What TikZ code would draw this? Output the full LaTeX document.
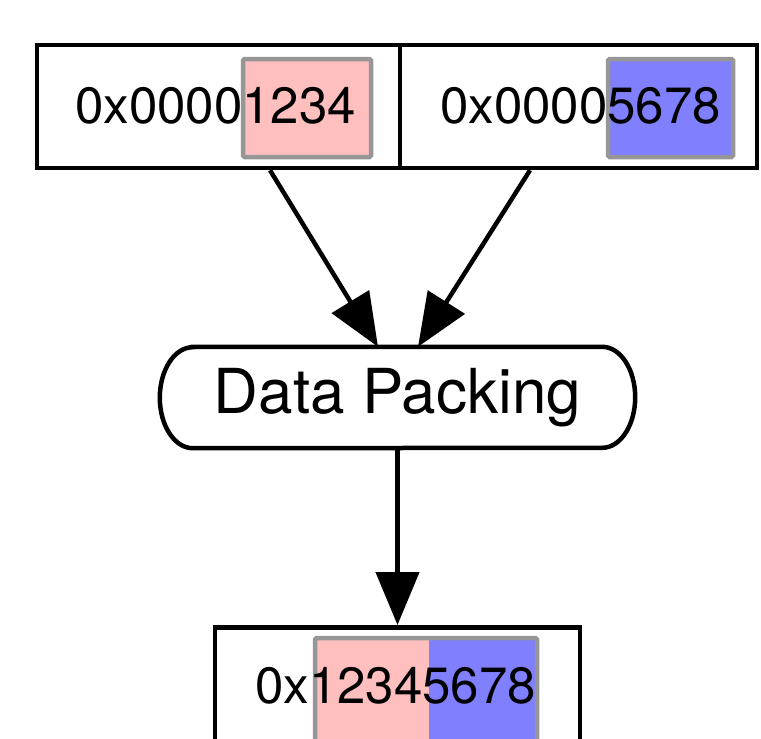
\documentclass[tikz,border=0pt]{standalone}
\usepackage{fontspec}
\setmainfont{TeX Gyre Heros}
\usetikzlibrary{arrows.meta}
\definecolor{hlred}{RGB}{255,191,191}
\definecolor{hlblue}{RGB}{128,128,255}
\definecolor{hlframe}{RGB}{150,150,150}
\begin{document}
\begin{tikzpicture}[x=1pt,y=-1pt,
  field/.style={draw=black, line width=4.5pt, inner sep=0pt, fill=white},
  hlframe/.style={draw=hlframe, line width=4.5pt, rounded corners=1.5pt},
  val/.style={font=\fontsize{51}{51}\selectfont, inner sep=0pt, anchor=base west},
  flow/.style={line width=4.5pt, -{Triangle[length=53pt,width=43pt]}}]
\useasboundingbox (0,0) rectangle (761,739);
\clip (0,0) rectangle (761,739);
\fill[white] (0,0) rectangle (761,739);

% input words
\node[field, minimum width=363pt, minimum height=123pt] (inA) at (218.5,106.5) {};
\node[field, minimum width=357pt, minimum height=123pt] (inB) at (578.5,106.5) {};
\fill[hlred] (243,59) rectangle (371,157);
\draw[hlframe] (243,59) rectangle (371,157);
\fill[hlblue] (608,59) rectangle (733,157);
\draw[hlframe] (608,59) rectangle (733,157);
\node[val] (tA) at (75,123) {0x00001234};
\node[val] (tB) at (440,123) {0x00005678};

% packing step
\node[inner sep=0pt, minimum width=475pt, minimum height=101pt,
      font=\fontsize{62}{62}\selectfont] (pack) at (397.5,397.5) {Data Packing};
\draw[line width=4.5pt] ([xshift=33pt]pack.north west) -- ([xshift=-33pt]pack.north east)
  arc[start angle=90, end angle=-90, x radius=33pt, y radius=50.5pt]
  -- ([xshift=33pt]pack.south west)
  arc[start angle=270, end angle=90, x radius=33pt, y radius=50.5pt] -- cycle;

% packed result
\node[field, minimum width=365pt, minimum height=140pt, anchor=north] (out) at (397.5,625) {};
\fill[hlred] (315,638) rectangle (429,770);
\fill[hlblue] (429,638) rectangle (537,770);
\draw[hlframe] (315,638) rectangle (537,770);
\node[val] (tC) at (255,703) {0x12345678};

% connectors
\draw[flow] ([xshift=51.5pt]inA.south) -- ([xshift=-19.5pt]pack.north);
\draw[flow] ([xshift=-48.5pt]inB.south) -- ([xshift=20.5pt]pack.north);
\draw[flow] (pack.south) -- (out.north);
\end{tikzpicture}
\end{document}
